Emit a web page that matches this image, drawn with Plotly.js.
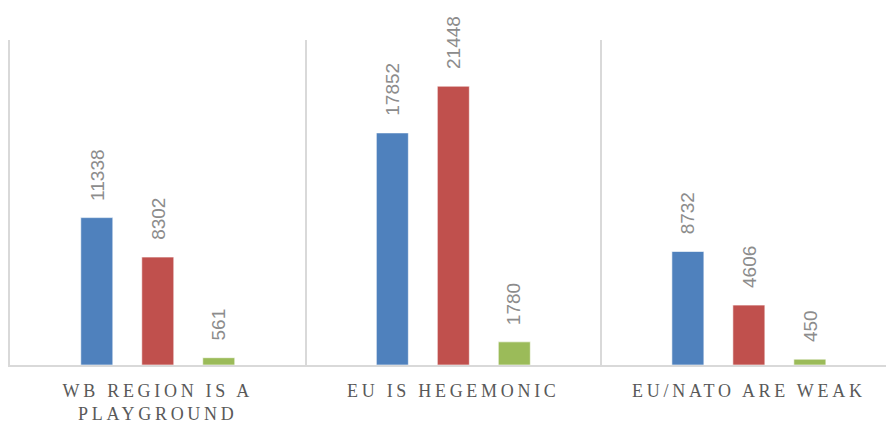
<!DOCTYPE html>
<html>
<head>
<meta charset="utf-8">
<script src="https://cdn.plot.ly/plotly-3.0.1.min.js"></script>
<style>
html,body{margin:0;padding:0;background:#fff;}
#chart{width:886px;height:424px;}
.xtick text{letter-spacing:3.7px;}
</style>
</head>
<body>
<div id="chart"></div>
<script>
const categories = ["WB REGION IS A<br>PLAYGROUND", "EU IS HEGEMONIC", "EU/NATO ARE WEAK"];
const seriesNames = ["Series 1", "Series 2", "Series 3"];
const series1 = [11338, 17852, 8732];
const series2 = [8302, 21448, 4606];
const series3 = [561, 1780, 450];
const colors = ["#4f81bd", "#c0504d", "#9bbb59"];

const allSeries = [series1, series2, series3];
const traces = allSeries.map((vals, i) => ({
  type: "bar",
  name: seriesNames[i],
  x: categories,
  y: vals,
  marker: {color: colors[i], line: {color: "rgba(255,255,255,0.6)", width: 1}},
  hoverinfo: "x+y"
}));

const shifts = [-61, 0, 61];
const annotations = [];
allSeries.forEach((vals, i) => {
  vals.forEach((v, j) => {
    annotations.push({
      x: categories[j], y: v, xref: "x", yref: "y",
      text: String(v), showarrow: false, textangle: -90,
      xanchor: "center", yanchor: "bottom",
      xshift: shifts[i], yshift: 15,
      font: {family: "Liberation Sans, Arial, sans-serif", size: 19, color: "#8c8c8c"}
    });
  });
});

const layout = {
  width: 886, height: 424,
  margin: {l: 10, r: 0, t: 40, b: 59},
  paper_bgcolor: "#ffffff", plot_bgcolor: "#ffffff",
  showlegend: false,
  barmode: "group",
  bargap: 0.381,
  bargroupgap: 0.475,
  xaxis: {
    type: "category",
    range: [-0.5, 2.464],
    tickson: "boundaries",
    showgrid: true, gridcolor: "#d9d9d9", gridwidth: 2,
    showline: true, linecolor: "#d9d9d9", linewidth: 2,
    ticks: "", ticklen: 0,
    ticklabelstandoff: 8,
    tickfont: {family: "Liberation Serif, DejaVu Serif, serif", size: 18, color: "#595959"},
    fixedrange: true
  },
  yaxis: {
    range: [0, 25000],
    showgrid: false, zeroline: false,
    showline: true, linecolor: "#d9d9d9", linewidth: 2,
    showticklabels: false, ticks: "",
    fixedrange: true
  },
  annotations: annotations
};

Plotly.newPlot("chart", traces, layout, {displayModeBar: false, staticPlot: true});
</script>
</body>
</html>
